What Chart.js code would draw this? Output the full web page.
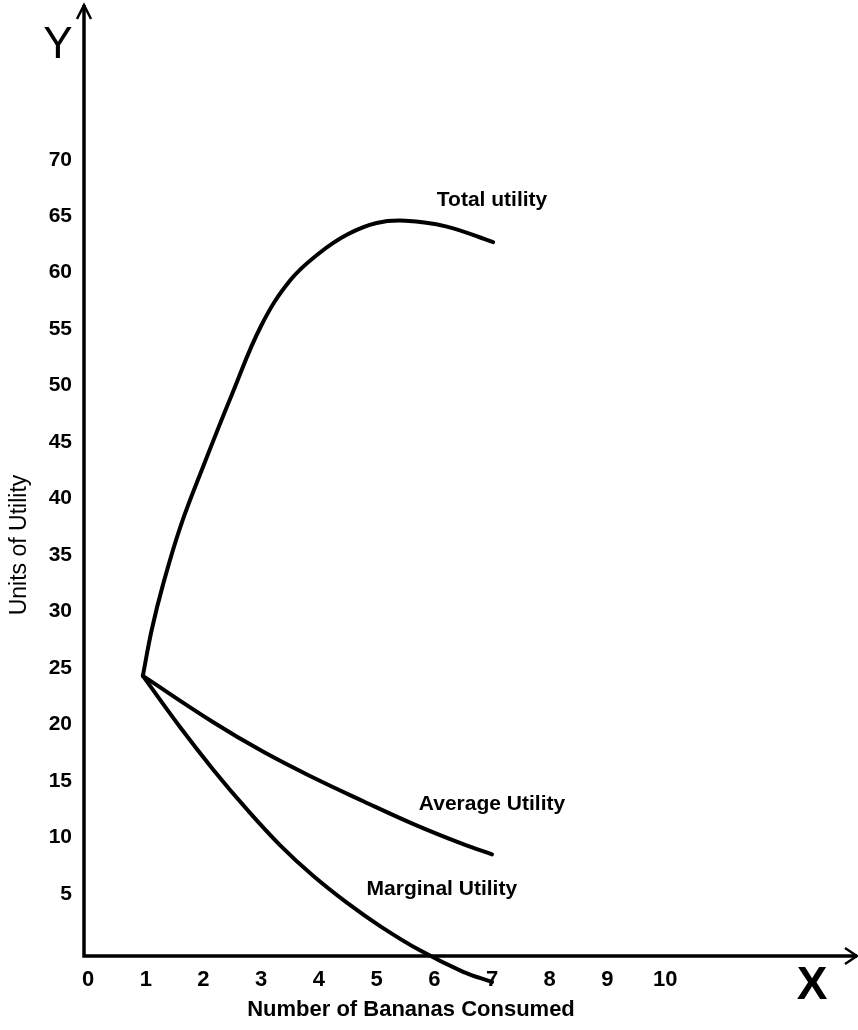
<!DOCTYPE html>
<html>
<head>
<meta charset="utf-8">
<script src="https://cdn.jsdelivr.net/npm/chart.js@4.4.0/dist/chart.umd.min.js"></script>
<style>
html,body{margin:0;padding:0;background:#fff;}
#wrap{width:858px;height:1030px;position:relative;}
</style>
</head>
<body>
<div id="wrap"><canvas id="c" width="858" height="1030"></canvas></div>
<script>
// ---- data ----
const xTickLabels = [0, 1, 2, 3, 4, 5, 6, 7, 8, 9, 10];
const yTickLabels = [5, 10, 15, 20, 25, 30, 35, 40, 45, 50, 55, 60, 65, 70];

const totalX = [0.95, 1.1, 1.3, 1.6, 2.0, 2.5, 3.0, 3.5, 4.0, 4.5, 5.0, 5.5, 6.2, 7.02];
const totalY = [24.3, 28.3, 32.4, 37.5, 42.9, 49.3, 55.3, 59.3, 61.7, 63.4, 64.4, 64.6, 64.1, 62.7];

const avgX = [0.95, 2.17, 3.03, 3.90, 4.77, 5.63, 6.50, 7.00];
const avgY = [24.3, 20.2, 17.6, 15.3, 13.2, 11.2, 9.4, 8.5];

const margX = [0.95, 1.59, 2.17, 2.75, 3.33, 3.90, 4.49, 5.06, 5.75, 6.50, 7.00];
const margY = [24.3, 19.8, 16.0, 12.5, 9.3, 6.6, 4.2, 2.15, 0.0, -1.9, -2.8];

const seriesNames = ['Total utility', 'Average Utility', 'Marginal Utility'];

const xTitle = 'Number of Bananas Consumed';
const yTitle = 'Units of Utility';

// ---- chart ----
const FONT = '"Liberation Sans", Arial, Helvetica, sans-serif';
const pts = (xs, ys) => xs.map((x, i) => ({x: x, y: ys[i]}));

const labelAnchors = [
  {x: 7.0, y: 66.4},
  {x: 7.0, y: 12.9},
  {x: 6.13, y: 5.4}
];

const decor = {
  id: 'decor',
  afterDatasetsDraw(chart) {
    const {ctx, chartArea: a, scales: {x, y}} = chart;
    ctx.save();
    ctx.strokeStyle = '#000';
    ctx.fillStyle = '#000';
    ctx.lineCap = 'butt';
    // axes
    ctx.lineWidth = 3.5;
    ctx.beginPath();
    ctx.moveTo(a.left, a.bottom + 1.5);
    ctx.lineTo(a.left, a.top);
    ctx.moveTo(a.left - 1.5, a.bottom);
    ctx.lineTo(a.right + 2, a.bottom);
    ctx.stroke();
    // arrowheads
    ctx.lineWidth = 2.5;
    ctx.lineJoin = 'miter';
    ctx.beginPath();
    ctx.moveTo(a.left - 7, a.top + 14);
    ctx.lineTo(a.left, a.top);
    ctx.lineTo(a.left + 7, a.top + 14);
    ctx.moveTo(a.right - 10, a.bottom - 8);
    ctx.lineTo(a.right + 2, a.bottom);
    ctx.lineTo(a.right - 10, a.bottom + 8);
    ctx.stroke();

    // series labels
    ctx.textAlign = 'center';
    ctx.textBaseline = 'middle';
    ctx.font = 'bold 21px ' + FONT;
    seriesNames.forEach((n, i) => {
      ctx.fillText(n, x.getPixelForValue(labelAnchors[i].x), y.getPixelForValue(labelAnchors[i].y));
    });

    // axis letters
    ctx.font = 'normal 44px ' + FONT;
    ctx.fillText('Y', 58, 46);
    ctx.font = 'bold 46px ' + FONT;
    ctx.fillText('X', 812, 986);

    // titles
    ctx.font = 'bold 22px ' + FONT;
    ctx.fillText(xTitle, 411, 1010);
    ctx.save();
    ctx.translate(20, 545);
    ctx.rotate(-Math.PI / 2);
    ctx.font = 'normal 23px ' + FONT;
    ctx.fillText(yTitle, 0, 0);
    ctx.restore();
    ctx.restore();
  }
};

const lineStyle = {
  borderColor: '#000',
  borderWidth: 4,
  pointRadius: 0,
  tension: 0.4,
  borderCapStyle: 'round',
  borderJoinStyle: 'round',
  clip: false,
  fill: false
};

const noPad = s => { s.paddingTop = 0; s.paddingBottom = 0; s.paddingLeft = 0; s.paddingRight = 0; };

new Chart(document.getElementById('c'), {
  type: 'line',
  data: {
    datasets: [
      Object.assign({label: seriesNames[0], data: pts(totalX, totalY)}, lineStyle),
      Object.assign({label: seriesNames[1], data: pts(avgX, avgY)}, lineStyle),
      Object.assign({label: seriesNames[2], data: pts(margX, margY)}, lineStyle)
    ]
  },
  options: {
    responsive: false,
    animation: false,
    devicePixelRatio: 1,
    layout: {padding: {top: 5, right: 3, left: 0, bottom: 0}},
    plugins: {legend: {display: false}, tooltip: {enabled: false}},
    scales: {
      x: {
        type: 'linear',
        min: -0.07,
        max: 13.29,
        afterBuildTicks: s => { s.ticks = xTickLabels.map(v => ({value: v})); },
        afterFit: s => { s.height = 74; noPad(s); },
        grid: {display: false, drawTicks: false},
        border: {display: false},
        ticks: {
          padding: 11,
          autoSkip: false,
          maxRotation: 0,
          color: '#000',
          font: {family: FONT, size: 22, weight: 'bold'}
        }
      },
      y: {
        type: 'linear',
        min: -0.5,
        max: 83.7,
        afterBuildTicks: s => { s.ticks = yTickLabels.map(v => ({value: v})); },
        afterFit: s => { s.width = 84; noPad(s); },
        grid: {display: false, drawTicks: false},
        border: {display: false},
        ticks: {
          padding: 12,
          autoSkip: false,
          color: '#000',
          font: {family: FONT, size: 21, weight: 'bold'}
        }
      }
    }
  },
  plugins: [decor]
});
</script>
</body>
</html>
